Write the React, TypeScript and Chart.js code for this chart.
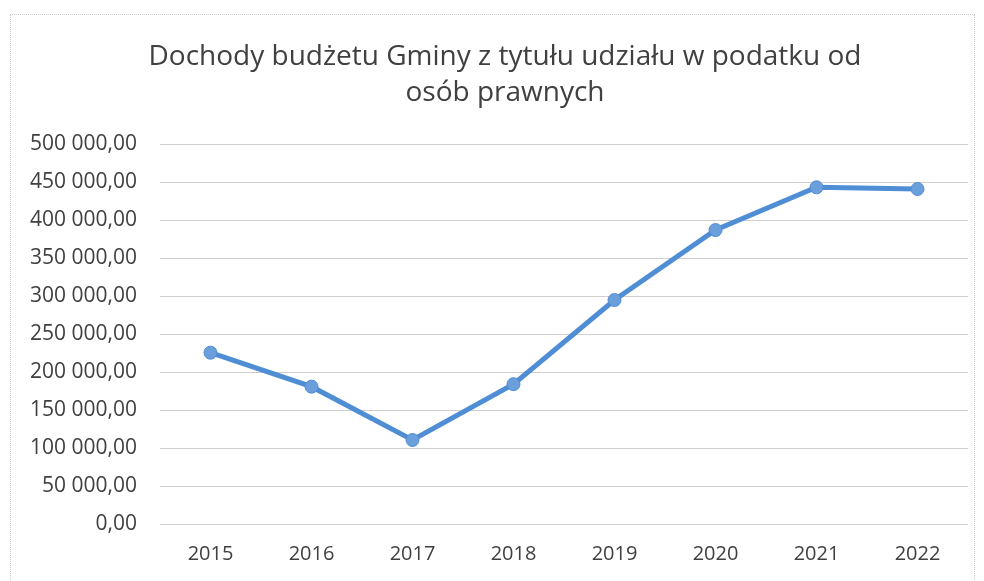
import React, { useEffect, useRef } from "react";
import { Chart, registerables } from "chart.js";

Chart.register(...registerables);

const titleLines = ["Dochody budżetu Gminy z tytułu udziału w podatku od", "osób prawnych"];
const years = ["2015", "2016", "2017", "2018", "2019", "2020", "2021", "2022"];
const revenues = [225400, 180700, 110500, 184000, 294700, 386800, 443000, 440800];
const yMin = 0;
const yMax = 500000;
const yStep = 50000;

const fmt = (v: number) =>
  Math.round(v).toString().replace(/\B(?=(\d{3})+(?!\d))/g, " ") + ",00";

const shiftTitle = {
  id: "shiftTitle",
  afterLayout(chart: any) {
    const t = chart.titleBlock;
    if (t) {
      t.left = 42;
      t.right = 968;
    }
  },
};

export default function App() {
  const ref = useRef<HTMLCanvasElement | null>(null);

  useEffect(() => {
    if (!ref.current) return;
    const textColor = "#404040";
    const chart = new Chart(ref.current, {
      type: "line",
      data: {
        labels: years,
        datasets: [
          {
            data: revenues,
            borderColor: "#4f8ed4",
            backgroundColor: "#5b96d8",
            borderWidth: 5,
            pointRadius: 6.5,
            pointBorderWidth: 1,
            pointBorderColor: "#4f8ed4",
            pointBackgroundColor: "#6a9fdb",
            tension: 0,
          },
        ],
      },
      plugins: [shiftTitle],
      options: {
        animation: false,
        responsive: false,
        layout: { padding: { left: 0, right: 16, top: 0, bottom: 14 } },
        plugins: {
          legend: { display: false },
          tooltip: { enabled: false },
          title: {
            display: true,
            text: titleLines,
            color: textColor,
            font: { family: "'Open Sans', sans-serif", size: 28, weight: "normal", lineHeight: 36 / 28 },
            padding: { top: 39, bottom: 33 },
          },
        },
        scales: {
          x: {
            offset: true,
            afterFit: (scale: any) => {
              scale.height = 43;
            },
            grid: { display: false, drawTicks: false },
            border: { display: false },
            ticks: {
              color: textColor,
              font: { family: "'Open Sans', sans-serif", size: 20 },
              padding: 18,
            },
          },
          y: {
            min: yMin,
            max: yMax,
            afterFit: (scale: any) => {
              scale.width = 160;
            },
            grid: { color: "#cfcfcf", lineWidth: 1, drawTicks: false },
            border: { display: false },
            ticks: {
              stepSize: yStep,
              color: textColor,
              font: { family: "'Open Sans', sans-serif", size: 21 },
              padding: 23,
              callback: (v: any) => fmt(Number(v)),
            },
          },
        },
      },
    });
    return () => chart.destroy();
  }, []);

  return (
    <div style={{ position: "fixed", left: 0, top: 0, width: 984, height: 581, background: "#fff" }}>
      <div
        style={{
          position: "absolute",
          left: 10,
          top: 14,
          width: 965,
          height: 600,
          border: "1px dotted #c8c8c8",
          boxSizing: "border-box",
        }}
      />
      <canvas ref={ref} width={984} height={581} style={{ position: "absolute", left: 0, top: 0 }} />
    </div>
  );
}
